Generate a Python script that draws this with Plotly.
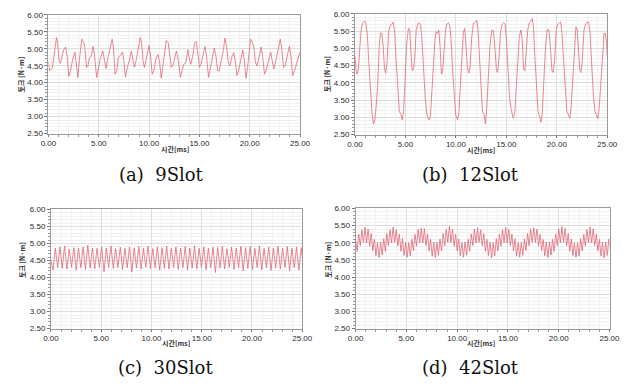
import plotly.graph_objects as go

# ---------------- data ----------------
# (a) 9Slot : time [ms] / torque [N·m]
t_9slot = [0.00, 0.10, 0.26, 0.39, 0.51, 0.67, 0.80, 0.90, 1.06, 1.19,
           1.35, 1.51, 1.70, 1.86, 2.02, 2.19, 2.41, 2.63, 2.76, 2.92,
           3.08, 3.31, 3.47, 3.60, 3.79, 3.92, 4.08, 4.24, 4.43, 4.59,
           4.79, 4.95, 5.14, 5.40, 5.56, 5.72, 5.88, 6.11, 6.33, 6.46,
           6.62, 6.78, 6.94, 7.13, 7.36, 7.49, 7.65, 7.84, 8.03, 8.23,
           8.39, 8.55, 8.74, 8.97, 9.13, 9.25, 9.42, 9.54, 9.74, 9.99,
           10.15, 10.31, 10.48, 10.67, 10.89, 11.05, 11.21, 11.38, 11.54, 11.70,
           11.89, 12.05, 12.21, 12.37, 12.53, 12.72, 12.89, 13.11, 13.27, 13.46,
           13.66, 13.85, 13.98, 14.14, 14.33, 14.52, 14.69, 14.85, 15.01, 15.17,
           15.36, 15.55, 15.71, 15.91, 16.07, 16.29, 16.48, 16.65, 16.81, 16.97,
           17.19, 17.38, 17.54, 17.71, 17.87, 18.03, 18.25, 18.41, 18.57, 18.73,
           18.89, 19.12, 19.31, 19.47, 19.63, 19.79, 19.95, 20.08, 20.24, 20.40,
           20.57, 20.73, 20.95, 21.14, 21.30, 21.47, 21.63, 21.85, 22.08, 22.24,
           22.40, 22.59, 22.85, 23.04, 23.20, 23.36, 23.52, 23.75, 23.94, 24.10,
           24.26, 24.45, 24.65, 24.84, 25.00]
torque_9slot = [4.61, 4.35, 4.40, 4.45, 4.69, 5.12, 5.33, 5.17, 4.64, 4.57,
                4.78, 4.97, 5.05, 4.78, 4.19, 4.35, 4.69, 4.90, 4.59, 4.15,
                4.69, 5.28, 5.21, 5.07, 4.45, 4.50, 4.73, 4.78, 5.07, 4.78,
                4.15, 4.40, 4.69, 4.93, 4.64, 4.42, 4.69, 5.02, 5.28, 5.02,
                4.25, 4.35, 4.73, 4.80, 4.90, 4.64, 4.16, 4.45, 4.64, 4.93,
                4.69, 4.45, 4.69, 5.07, 5.33, 5.17, 4.59, 4.45, 4.73, 5.09,
                4.78, 4.25, 4.35, 4.69, 4.83, 4.59, 4.13, 4.50, 4.97, 5.24,
                5.19, 4.88, 4.45, 4.51, 4.73, 4.93, 4.69, 4.16, 4.35, 4.54,
                4.59, 4.97, 4.73, 4.54, 4.78, 5.17, 5.21, 4.78, 4.45, 4.54,
                4.78, 5.07, 4.78, 4.16, 4.40, 4.78, 5.02, 4.78, 4.35, 4.35,
                4.64, 4.97, 5.31, 5.07, 4.59, 4.50, 4.78, 4.88, 4.64, 4.21,
                4.35, 4.69, 4.97, 4.64, 4.13, 4.45, 4.97, 5.28, 5.21, 5.07,
                4.59, 4.50, 4.78, 5.05, 4.73, 4.25, 4.35, 4.64, 4.90, 4.64,
                4.40, 4.64, 5.07, 5.28, 4.97, 4.45, 4.50, 4.78, 5.07, 4.78,
                4.21, 4.35, 4.54, 4.78, 4.90]

# (b) 12Slot
t_12slot = [0.00, 0.10, 0.22, 0.35, 0.48, 0.64, 0.80, 0.96, 1.09, 1.22,
            1.35, 1.51, 1.67, 1.83, 1.96, 2.08, 2.24, 2.40, 2.53, 2.66,
            2.79, 2.92, 3.04, 3.17, 3.33, 3.49, 3.65, 3.78, 3.91, 4.07,
            4.23, 4.39, 4.55, 4.68, 4.81, 4.97, 5.13, 5.29, 5.42, 5.54,
            5.67, 5.80, 5.93, 6.06, 6.22, 6.38, 6.51, 6.63, 6.79, 6.96,
            7.12, 7.31, 7.47, 7.60, 7.76, 7.92, 8.04, 8.17, 8.30, 8.43,
            8.56, 8.69, 8.81, 8.97, 9.10, 9.26, 9.39, 9.52, 9.65, 9.81,
            9.97, 10.16, 10.29, 10.42, 10.58, 10.74, 10.87, 10.99, 11.15, 11.28,
            11.41, 11.57, 11.73, 11.89, 12.05, 12.18, 12.31, 12.47, 12.63, 12.79,
            12.92, 13.04, 13.21, 13.37, 13.56, 13.72, 13.88, 14.01, 14.13, 14.26,
            14.42, 14.58, 14.74, 14.87, 15.00, 15.16, 15.32, 15.48, 15.67, 15.83,
            15.96, 16.12, 16.28, 16.44, 16.57, 16.70, 16.83, 16.96, 17.12, 17.28,
            17.44, 17.56, 17.69, 17.82, 17.98, 18.14, 18.30, 18.43, 18.56, 18.72,
            18.88, 19.04, 19.17, 19.26, 19.39, 19.52, 19.65, 19.78, 19.94, 20.10,
            20.26, 20.38, 20.51, 20.67, 20.83, 20.99, 21.15, 21.28, 21.41, 21.57,
            21.73, 21.89, 22.02, 22.15, 22.28, 22.40, 22.53, 22.69, 22.85, 23.01,
            23.17, 23.30, 23.46, 23.62, 23.78, 23.94, 24.07, 24.20, 24.36, 24.52,
            24.68, 24.81, 24.94, 25.00]
torque_12slot = [4.77, 4.35, 4.25, 4.44, 5.06, 5.62, 5.74, 5.79, 5.72, 5.39,
                 4.68, 3.92, 3.17, 2.81, 2.93, 3.26, 3.92, 5.06, 5.45, 5.43,
                 5.06, 4.40, 4.28, 4.58, 5.48, 5.67, 5.70, 5.76, 5.53, 4.68,
                 3.92, 3.17, 3.08, 2.93, 3.17, 4.11, 5.15, 5.58, 5.53, 4.87,
                 4.35, 4.40, 4.77, 5.53, 5.70, 5.74, 5.67, 5.25, 4.40, 3.55,
                 3.08, 2.93, 3.02, 3.64, 4.58, 5.25, 5.48, 5.43, 5.53, 5.06,
                 4.25, 4.35, 4.87, 5.53, 5.70, 5.74, 5.67, 5.25, 4.49, 3.64,
                 3.08, 2.93, 3.12, 3.83, 4.87, 5.48, 5.58, 5.15, 4.40, 4.28,
                 4.49, 5.34, 5.72, 5.74, 5.81, 5.58, 4.77, 3.83, 3.17, 3.08,
                 2.81, 3.17, 4.11, 5.06, 5.53, 5.51, 4.96, 4.35, 4.30, 4.68,
                 5.48, 5.70, 5.74, 5.70, 5.25, 4.40, 3.55, 3.22, 2.98, 3.12,
                 3.74, 4.68, 5.34, 5.53, 5.25, 4.40, 4.35, 4.87, 5.53, 5.74,
                 5.79, 5.86, 5.62, 4.77, 3.83, 3.17, 3.02, 2.86, 3.12, 4.02,
                 5.06, 5.53, 5.55, 5.43, 4.87, 4.35, 4.30, 4.68, 5.53, 5.70,
                 5.74, 5.76, 5.43, 4.58, 3.64, 3.17, 3.08, 2.97, 3.26, 4.11,
                 5.15, 5.62, 5.53, 5.06, 4.35, 4.30, 4.68, 5.53, 5.70, 5.76,
                 5.76, 5.39, 4.49, 3.64, 3.17, 3.02, 2.96, 3.26, 4.02, 4.96,
                 5.43, 5.43, 5.15, 4.77]

# (c) 30Slot : read at successive troughs/peaks, one reading every 0.2308 ms from 0.2 ms
t_start_30slot, torque_start_30slot = 0.0, 4.50
t0_30slot, dt_30slot = 0.2, 0.2308
torque_30slot = [4.22, 4.86, 4.30, 4.90, 4.27, 4.93, 4.25, 4.84, 4.30, 4.88, 4.22, 4.87,
                 4.29, 4.90, 4.24, 4.95, 4.28, 4.86, 4.26, 4.86, 4.30, 4.90, 4.17, 4.87,
                 4.30, 4.93, 4.27, 4.85, 4.30, 4.89, 4.24, 4.86, 4.29, 4.90, 4.16, 4.87,
                 4.28, 4.91, 4.25, 4.86, 4.30, 4.92, 4.26, 4.85, 4.29, 4.90, 4.22, 4.88,
                 4.27, 4.92, 4.25, 4.86, 4.30, 4.90, 4.24, 4.86, 4.29, 4.91, 4.22, 4.87,
                 4.28, 4.93, 4.25, 4.86, 4.30, 4.90, 4.23, 4.86, 4.29, 4.89, 4.15, 4.88,
                 4.28, 4.92, 4.25, 4.85, 4.30, 4.90, 4.24, 4.87, 4.29, 4.92, 4.20, 4.88,
                 4.27, 4.91, 4.24, 4.86, 4.30, 4.93, 4.23, 4.86, 4.29, 4.90, 4.21, 4.87,
                 4.28, 4.92, 4.25, 4.86, 4.30, 4.91, 4.20, 4.86, 4.29, 4.90, 4.22, 4.88,
                 4.28]

# (d) 42Slot : read at successive ripple peaks/troughs, one reading every 0.1539 ms from 0 ms
t0_42slot, dt_42slot = 0.0, 0.1539
torque_42slot = [5.10, 4.75, 5.25, 4.92, 5.38, 5.02,
                 5.45, 5.00, 5.40, 4.90, 5.27, 4.77, 5.10, 4.62, 5.00, 4.57, 5.02, 4.64, 5.12, 4.75, 5.27, 4.92, 5.38, 5.00,
                 5.46, 5.02, 5.38, 4.91, 5.25, 4.75, 5.12, 4.63, 5.00, 4.58, 5.00, 4.62, 5.10, 4.77, 5.25, 4.90, 5.40, 5.01,
                 5.43, 5.00, 5.41, 4.92, 5.26, 4.76, 5.10, 4.61, 5.02, 4.57, 5.01, 4.63, 5.11, 4.76, 5.27, 4.91, 5.39, 5.02,
                 5.48, 5.01, 5.40, 4.90, 5.25, 4.77, 5.11, 4.62, 5.00, 4.58, 5.02, 4.64, 5.10, 4.75, 5.26, 4.92, 5.40, 5.00,
                 5.44, 5.02, 5.38, 4.91, 5.27, 4.75, 5.10, 4.63, 5.01, 4.56, 5.00, 4.62, 5.12, 4.76, 5.25, 4.90, 5.38, 5.01,
                 5.45, 5.00, 5.39, 4.92, 5.26, 4.76, 5.12, 4.61, 5.00, 4.58, 5.01, 4.63, 5.11, 4.77, 5.27, 4.91, 5.41, 5.02,
                 5.44, 5.01, 5.40, 4.90, 5.25, 4.77, 5.10, 4.62, 5.02, 4.57, 5.02, 4.64, 5.10, 4.75, 5.26, 4.92, 5.40, 5.00,
                 5.47, 5.02, 5.42, 4.91, 5.27, 4.75, 5.11, 4.63, 5.00, 4.58, 5.00, 4.62, 5.12, 4.76, 5.25, 4.90, 5.39, 5.01,
                 5.46, 5.00, 5.41, 4.92, 5.26, 4.76, 5.10, 4.61, 5.01, 4.56, 5.02, 4.63, 5.11, 4.75]

x_ticks = [0, 5, 10, 15, 20, 25]
y_ticks = [2.5, 3.0, 3.5, 4.0, 4.5, 5.0, 5.5, 6.0]
captions = ["(a)\u00a0\u00a09Slot", "(b)\u00a0\u00a012Slot", "(c)\u00a0\u00a030Slot", "(d)\u00a0\u00a042Slot"]
x_title = "시간[ms]"
y_title = "토크 [N·m]"

t_30slot = [t_start_30slot] + [t0_30slot + dt_30slot * i for i in range(len(torque_30slot))]
v_30slot = [torque_start_30slot] + torque_30slot
t_42slot = [t0_42slot + dt_42slot * i for i in range(len(torque_42slot))]

series = [(t_9slot, torque_9slot), (t_12slot, torque_12slot),
          (t_30slot, v_30slot), (t_42slot, torque_42slot)]

# ---------------- layout geometry (pixels in a 637x390 canvas) ----------------
W, H = 637, 390
# plot boxes: (left, right, top, bottom)
boxes = [(41.7, 301.0, 11.0, 132.7),
         (357.7, 617.7, 10.0, 133.7),
         (44.3, 303.3, 210.3, 332.3),
         (358.3, 620.0, 209.3, 332.3)]
xtitle_pos = [(172, 148), (488, 149), (173, 347.5), (488, 347.5)]
ytitle_pos = [(13.5, 72), (329.5, 72), (14.5, 262), (329.5, 262)]
caption_pos = [(158, 175), (477, 175), (162, 372), (477, 372)]

LINE = "#e2606f"
tick_font = dict(family="Liberation Sans, Arial", size=8, color="#2a2a2a")
title_font = dict(family="Noto Sans CJK KR", size=7, color="#333333")

fig = go.Figure()
layout = dict(width=W, height=H, margin=dict(l=0, r=0, t=0, b=0),
              paper_bgcolor="white", plot_bgcolor="white", showlegend=False,
              annotations=[])

for i, ((tx, ty), (l, r, tp, bt)) in enumerate(zip(series, boxes)):
    n = "" if i == 0 else str(i + 1)
    fig.add_trace(go.Scatter(x=tx, y=ty, mode="lines",
                             line=dict(color=LINE, width=0.75),
                             xaxis="x" + n, yaxis="y" + n, hoverinfo="skip"))
    layout["xaxis" + n] = dict(
        domain=[l / W, r / W], anchor="y" + n, range=[0, 25],
        tickvals=x_ticks, tickformat=".2f", ticks="outside", ticklen=2,
        tickcolor="#777", tickfont=tick_font, showline=True, linecolor="#9a9a9a",
        linewidth=1, mirror=True, showgrid=True, gridcolor="#dedede", gridwidth=1,
        zeroline=False,
        minor=dict(dtick=1, showgrid=True, gridcolor="#f1f1f1", ticks="outside",
                   ticklen=2, tickcolor="#999"))
    layout["yaxis" + n] = dict(
        domain=[1 - bt / H, 1 - tp / H], anchor="x" + n, range=[2.5, 6.0],
        tickvals=y_ticks, tickformat=".2f", ticks="outside", ticklen=3,
        tickcolor="#777", tickfont=tick_font, showline=True, linecolor="#9a9a9a",
        linewidth=1, mirror=True, showgrid=True, gridcolor="#dedede", gridwidth=1,
        zeroline=False,
        minor=dict(dtick=0.1, showgrid=True, gridcolor="#f1f1f1", ticks="outside",
                   ticklen=2, tickcolor="#999"))
    xt, yt = xtitle_pos[i]
    layout["annotations"].append(dict(
        text="<b>" + x_title + "</b>", x=xt / W, y=1 - yt / H, xref="paper", yref="paper",
        showarrow=False, font=title_font, xanchor="center", yanchor="middle"))
    xt, yt = ytitle_pos[i]
    layout["annotations"].append(dict(
        text="<b>" + y_title + "</b>", x=xt / W, y=1 - yt / H, xref="paper", yref="paper",
        showarrow=False, font=title_font, textangle=-90, xanchor="center", yanchor="middle"))
    xc, yc = caption_pos[i]
    layout["annotations"].append(dict(
        text=captions[i], x=xc / W, y=1 - yc / H, xref="paper", yref="paper",
        showarrow=False, font=dict(family="DejaVu Serif", size=18, color="#111"),
        xanchor="center", yanchor="middle"))

fig.update_layout(**layout)
fig.write_html("out.html")
